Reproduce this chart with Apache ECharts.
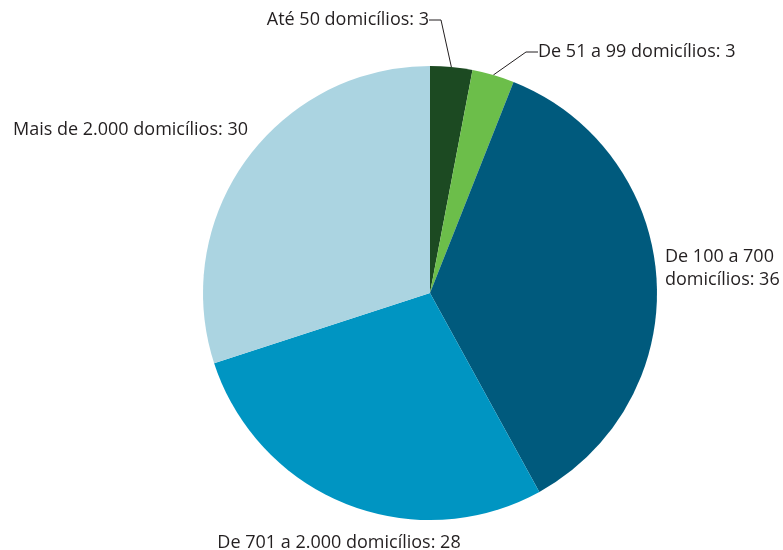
<!DOCTYPE html>
<html>
<head>
<meta charset="utf-8">
<script src="https://cdn.jsdelivr.net/npm/echarts@6/dist/echarts.min.js"></script>
<style>
  html, body { margin: 0; padding: 0; background: #fff; }
  #chart { width: 783px; height: 550px; }
</style>
</head>
<body>
<div id="chart"></div>
<script>
// categorias e valores (%)
const categorias = [
    'Até 50 domicílios',
    'De 51 a 99 domicílios',
    'De 100 a 700\ndomicílios',
    'De 701 a 2.000 domicílios',
    'Mais de 2.000 domicílios'
];
const valores = [3, 3, 36, 28, 30];
const cores = ['#1c4a22', '#6cbe4a', '#005a7d', '#0095c2', '#abd4e1'];

// posição dos rótulos
const rotulos = [
    { x: 429, y: 20, align: 'right' },
    { x: 538, y: 52, align: 'left' },
    { x: 665, y: 268, align: 'left' },
    { x: 339, y: 543, align: 'center' },
    { x: 248, y: 130, align: 'right' }
];
const comLinha = [true, true, false, false, false];

const myChart = echarts.init(document.getElementById('chart'));

const option = {
    animation: false,
    series: [{
        type: 'pie',
        center: [430, 293],
        radius: 227,
        startAngle: 90,
        clockwise: true,
        label: {
            show: true,
            position: 'outside',
            formatter: '{b}: {c}',
            fontFamily: 'Open Sans',
            fontSize: 18,
            color: '#231f20',
            lineHeight: 23,
            overflow: 'none'
        },
        labelLine: {
            show: true,
            length: 12,
            length2: 12,
            lineStyle: { color: '#231f20', width: 1 }
        },
        labelLayout: function (params) {
            const r = rotulos[params.dataIndex];
            return { x: r.x, y: r.y, align: r.align, verticalAlign: 'middle' };
        },
        data: categorias.map(function (nome, i) {
            return {
                name: nome,
                value: valores[i],
                itemStyle: { color: cores[i] },
                labelLine: { show: comLinha[i] }
            };
        })
    }]
};

myChart.setOption(option);
</script>
</body>
</html>
